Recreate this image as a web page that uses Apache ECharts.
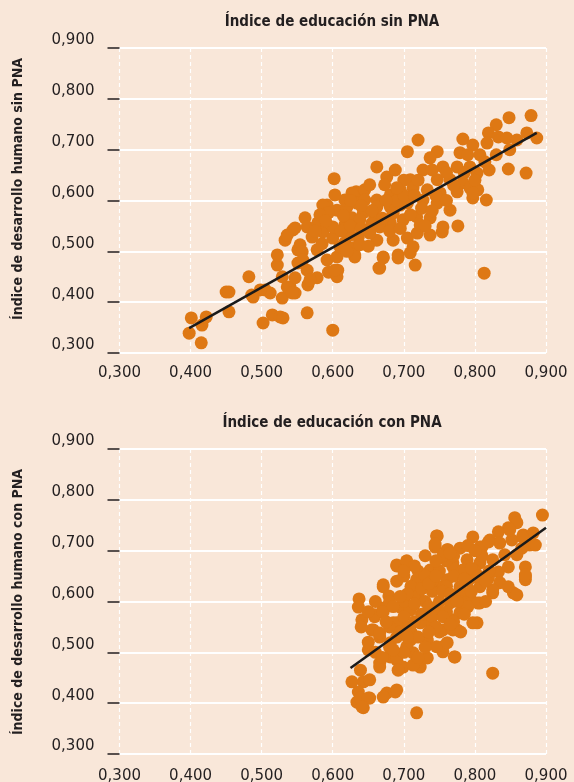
<!DOCTYPE html>
<html>
<head>
<meta charset="utf-8">
<script src="https://cdn.jsdelivr.net/npm/echarts@6/dist/echarts.min.js"></script>
<style>
  html, body { margin: 0; padding: 0; background: #f9e7d9; }
  #chart { width: 574px; height: 782px; }
</style>
</head>
<body>
<div id="chart"></div>
<script>
var tickValues = [0.3, 0.4, 0.5, 0.6, 0.7, 0.8, 0.9];
var titles = ['Índice de educación sin PNA', 'Índice de educación con PNA'];
var yNames = ['Índice de desarrollo humano sin PNA', 'Índice de desarrollo humano con PNA'];

// [educación, desarrollo humano] - sin PNA
var sinPnaPoints = [
  [0.398,0.339],[0.401,0.369],[0.415,0.320],[0.416,0.355],[0.422,0.371],
  [0.450,0.420],[0.454,0.420],[0.454,0.381],[0.482,0.450],[0.488,0.410],
  [0.502,0.359],[0.505,0.424],[0.512,0.418],[0.515,0.375],[0.526,0.371],
  [0.530,0.369],[0.522,0.473],[0.522,0.493],[0.529,0.450],[0.529,0.408],
  [0.533,0.522],[0.544,0.542],[0.540,0.430],[0.547,0.418],[0.551,0.503],
  [0.602,0.643],[0.633,0.617],[0.645,0.621],[0.592,0.591],[0.606,0.581],
  [0.620,0.587],[0.561,0.566],[0.547,0.546],[0.536,0.532],[0.554,0.513],
  [0.564,0.548],[0.579,0.556],[0.571,0.528],[0.586,0.538],[0.600,0.526],
  [0.617,0.517],[0.629,0.507],[0.578,0.503],[0.557,0.499],[0.551,0.477],
  [0.564,0.463],[0.592,0.483],[0.606,0.489],[0.594,0.459],[0.607,0.463],
  [0.631,0.489],[0.606,0.450],[0.578,0.448],[0.565,0.434],[0.547,0.448],
  [0.536,0.430],[0.498,0.424],[0.486,0.414],[0.564,0.379],[0.600,0.345],
  [0.636,0.528],[0.627,0.566],
  [0.848,0.763],[0.879,0.767],[0.830,0.749],[0.819,0.733],[0.833,0.725],
  [0.845,0.723],[0.859,0.719],[0.873,0.733],[0.887,0.723],[0.849,0.700],
  [0.847,0.662],[0.872,0.654],[0.783,0.721],[0.797,0.709],[0.817,0.713],
  [0.720,0.719],[0.705,0.696],[0.747,0.696],[0.779,0.694],[0.807,0.690],
  [0.814,0.676],[0.737,0.684],[0.727,0.660],[0.755,0.666],[0.775,0.666],
  [0.793,0.666],[0.803,0.654],[0.765,0.641],[0.783,0.635],[0.747,0.641],
  [0.709,0.641],[0.662,0.666],[0.676,0.646],[0.695,0.621],[0.713,0.625],
  [0.733,0.621],[0.751,0.615],[0.775,0.617],[0.793,0.625],[0.804,0.621],
  [0.797,0.605],[0.816,0.601],[0.765,0.581],[0.747,0.595],[0.727,0.601],
  [0.705,0.595],[0.681,0.587],[0.662,0.601],[0.659,0.568],[0.681,0.556],
  [0.699,0.562],[0.718,0.568],[0.737,0.566],[0.754,0.538],[0.776,0.550],
  [0.662,0.522],[0.685,0.522],[0.705,0.526],[0.713,0.509],[0.671,0.489],
  [0.692,0.493],[0.709,0.497],[0.716,0.473],[0.665,0.467],[0.813,0.457],
  [0.586,0.591],[0.594,0.576],[0.627,0.615],[0.634,0.595],[0.643,0.576],
  [0.662,0.587],[0.666,0.548],[0.652,0.536],[0.631,0.493],[0.666,0.467],
  [0.671,0.487],[0.692,0.487],[0.719,0.536],[0.755,0.548],[0.797,0.615],
  [0.600,0.548],[0.610,0.509],[0.603,0.463],[0.558,0.483],[0.568,0.444],
  [0.543,0.418],
  [0.617,0.552],[0.638,0.562],[0.645,0.601],[0.652,0.631],[0.673,0.631],
  [0.688,0.660],[0.695,0.591],[0.624,0.532],[0.681,0.611],[0.709,0.572],
  [0.723,0.552],[0.737,0.532],[0.638,0.513],[0.617,0.601],[0.603,0.611],
  [0.582,0.572],
  [0.612,0.540],[0.625,0.550],[0.640,0.545],[0.655,0.555],[0.670,0.565],
  [0.685,0.575],[0.690,0.600],[0.700,0.610],[0.715,0.610],[0.725,0.585],
  [0.740,0.580],[0.745,0.610],[0.760,0.600],[0.770,0.630],[0.760,0.655],
  [0.740,0.660],[0.720,0.640],[0.700,0.640],[0.690,0.625],[0.675,0.600],
  [0.655,0.580],[0.640,0.590],[0.625,0.600],[0.615,0.570],[0.590,0.560],
  [0.575,0.540],[0.585,0.515],[0.620,0.500],[0.650,0.510],[0.680,0.540],
  [0.695,0.545],[0.730,0.550],[0.785,0.655],[0.800,0.640],[0.820,0.660],
  [0.830,0.690],[0.790,0.690]
];

// [educación, desarrollo humano] - con PNA
var conPnaPoints = [
  [0.746,0.729],[0.744,0.707],[0.761,0.702],[0.704,0.680],[0.690,0.670],
  [0.671,0.629],[0.679,0.611],[0.637,0.605],[0.636,0.589],[0.641,0.564],
  [0.659,0.570],[0.671,0.587],[0.720,0.643],[0.713,0.617],[0.695,0.589],
  [0.685,0.558],[0.657,0.544],[0.666,0.530],[0.650,0.505],[0.681,0.519],
  [0.666,0.479],[0.690,0.485],[0.713,0.499],[0.733,0.524],[0.709,0.524],
  [0.704,0.550],[0.737,0.558],[0.746,0.589],[0.751,0.629],[0.737,0.662],
  [0.639,0.465],[0.627,0.442],[0.643,0.442],[0.652,0.446],[0.636,0.422],
  [0.652,0.410],[0.634,0.402],[0.643,0.391],[0.676,0.420],[0.688,0.422],
  [0.671,0.412],[0.718,0.381],[0.699,0.471],[0.723,0.471],[0.755,0.511],
  [0.825,0.459],[0.771,0.491],[0.755,0.501],[0.733,0.489],[0.713,0.475],
  [0.692,0.465],[0.666,0.471],[0.681,0.491],[0.704,0.511],[0.746,0.511],
  [0.775,0.544],[0.803,0.558],[0.807,0.597],[0.825,0.617],[0.854,0.617],
  [0.871,0.643],[0.769,0.564],[0.755,0.544],[0.741,0.578],[0.723,0.558],
  [0.709,0.583],[0.690,0.558],[0.783,0.603],
  [0.895,0.770],[0.856,0.765],[0.859,0.755],[0.847,0.745],[0.833,0.737],
  [0.821,0.721],[0.797,0.727],[0.835,0.715],[0.852,0.721],[0.868,0.731],
  [0.882,0.735],[0.877,0.711],[0.866,0.705],[0.859,0.692],[0.842,0.692],
  [0.825,0.682],[0.810,0.707],[0.779,0.705],[0.762,0.702],[0.789,0.682],
  [0.807,0.676],[0.871,0.668],[0.871,0.648],[0.847,0.668],[0.833,0.658],
  [0.819,0.646],[0.835,0.637],[0.847,0.629],[0.859,0.613],[0.825,0.623],
  [0.807,0.629],[0.797,0.648],[0.783,0.662],[0.769,0.668],[0.761,0.643],
  [0.779,0.629],[0.793,0.609],[0.804,0.597],[0.797,0.558],[0.779,0.578],
  [0.765,0.597],[0.769,0.544],[0.761,0.519],[0.772,0.491],
  [0.747,0.729],[0.744,0.713],[0.690,0.672],[0.704,0.678],[0.671,0.633],
  [0.659,0.574],[0.671,0.580],[0.655,0.544],[0.666,0.538],[0.639,0.410],
  [0.650,0.410],[0.641,0.393],[0.690,0.426],[0.849,0.741],[0.867,0.727],
  [0.885,0.711],[0.807,0.707],[0.819,0.717],[0.871,0.652],[0.718,0.643],
  [0.769,0.676],
  [0.700,0.600],[0.710,0.630],[0.720,0.610],[0.730,0.600],[0.740,0.620],
  [0.720,0.660],[0.730,0.650],[0.740,0.640],[0.750,0.660],[0.760,0.630],
  [0.770,0.650],[0.780,0.620],[0.790,0.640],[0.760,0.680],[0.770,0.690],
  [0.780,0.600],[0.760,0.580],[0.750,0.600],[0.700,0.570],[0.710,0.540],
  [0.720,0.530],[0.690,0.530],[0.680,0.550],[0.670,0.580],[0.680,0.600],
  [0.690,0.640],[0.700,0.650],[0.660,0.600],[0.650,0.580],[0.640,0.550],
  [0.650,0.520],[0.660,0.500],[0.670,0.490],[0.680,0.510],[0.690,0.490],
  [0.700,0.500],[0.720,0.490],[0.730,0.510],[0.740,0.570],[0.770,0.560],
  [0.780,0.540],[0.750,0.540],[0.790,0.590],[0.800,0.660],[0.810,0.690],
  [0.820,0.660],[0.790,0.710],[0.800,0.700],
  [0.705,0.615],[0.715,0.595],[0.725,0.625],[0.735,0.635],[0.745,0.650],
  [0.755,0.620],[0.765,0.615],[0.775,0.600],[0.785,0.645],[0.795,0.665],
  [0.805,0.650],[0.815,0.640],[0.755,0.690],[0.765,0.695],[0.745,0.680],
  [0.730,0.690],[0.715,0.670],[0.700,0.660],[0.695,0.610],[0.685,0.590],
  [0.675,0.560],[0.695,0.540],[0.715,0.560],[0.725,0.575],[0.735,0.590],
  [0.755,0.570],[0.765,0.555],[0.785,0.575],[0.795,0.620],[0.815,0.600],
  [0.745,0.550],[0.705,0.530],[0.735,0.540],[0.685,0.505]
];

// tendencia lineal
var sinPnaTrend = [[0.398, 0.349], [0.887, 0.733]];
var conPnaTrend = [[0.625, 0.469], [0.900, 0.745]];

var dotColor = '#de7814';
var textColor = '#231f20';
var boldFont = '"DejaVu Sans Condensed", "Liberation Sans Narrow", "DejaVu Sans", sans-serif';

function fmt(v) {
  return v.toFixed(3).replace('.', ',');
}

function xAxisFor(i, margin) {
  return {
    type: 'value', gridIndex: i,
    min: tickValues[0], max: tickValues[tickValues.length - 1], interval: 0.1,
    axisLine: { show: false },
    axisTick: { show: false },
    axisLabel: {
      formatter: fmt, margin: margin,
      fontFamily: '"DejaVu Sans", sans-serif', fontSize: 15, color: textColor
    },
    splitLine: { show: true, lineStyle: { color: '#ffffff', width: 1.2, type: [4, 3] } }
  };
}

function yAxisFor(i) {
  return {
    type: 'value', gridIndex: i,
    min: tickValues[0], max: tickValues[tickValues.length - 1], interval: 0.1,
    axisLine: { show: false },
    axisTick: { show: true, length: 12, lineStyle: { color: textColor, width: 1.5 } },
    axisLabel: {
      formatter: fmt, margin: 25,
      fontFamily: '"DejaVu Sans", sans-serif', fontSize: 15, color: textColor,
      verticalAlign: 'bottom'
    },
    splitLine: { show: true, lineStyle: { color: '#ffffff', width: 2 } }
  };
}

var myChart = echarts.init(document.getElementById('chart'));

var option = {
  backgroundColor: '#f9e7d9',
  animation: false,
  grid: [
    { left: 119.5, top: 48, width: 426.5, height: 305, outerBoundsMode: 'none' },
    { left: 119.5, top: 449, width: 426.5, height: 305, outerBoundsMode: 'none' }
  ],
  xAxis: [xAxisFor(0, 13), xAxisFor(1, 15)],
  yAxis: [yAxisFor(0), yAxisFor(1)],
  graphic: [
    { type: 'text', x: 332, y: 22, style: { text: titles[0], font: 'bold 15px ' + boldFont, fill: textColor, textAlign: 'center', textVerticalAlign: 'middle' } },
    { type: 'text', x: 332, y: 423, style: { text: titles[1], font: 'bold 15px ' + boldFont, fill: textColor, textAlign: 'center', textVerticalAlign: 'middle' } },
    { type: 'text', x: 18, y: 189, rotation: Math.PI / 2, style: { text: yNames[0], font: 'bold 14px ' + boldFont, fill: textColor, textAlign: 'center', textVerticalAlign: 'middle' } },
    { type: 'text', x: 18, y: 602, rotation: Math.PI / 2, style: { text: yNames[1], font: 'bold 14px ' + boldFont, fill: textColor, textAlign: 'center', textVerticalAlign: 'middle' } }
  ],
  series: [
    {
      name: 'sin PNA', type: 'scatter', xAxisIndex: 0, yAxisIndex: 0,
      symbolSize: 13, itemStyle: { color: dotColor, opacity: 1 },
      data: sinPnaPoints
    },
    {
      name: 'con PNA', type: 'scatter', xAxisIndex: 1, yAxisIndex: 1,
      symbolSize: 13, itemStyle: { color: dotColor, opacity: 1 },
      data: conPnaPoints
    },
    {
      type: 'line', xAxisIndex: 0, yAxisIndex: 0, z: 5,
      symbol: 'none', silent: true,
      lineStyle: { color: '#1a1a1a', width: 2.5 },
      data: sinPnaTrend
    },
    {
      type: 'line', xAxisIndex: 1, yAxisIndex: 1, z: 5,
      symbol: 'none', silent: true,
      lineStyle: { color: '#1a1a1a', width: 2.5 },
      data: conPnaTrend
    }
  ]
};

myChart.setOption(option);
</script>
</body>
</html>
